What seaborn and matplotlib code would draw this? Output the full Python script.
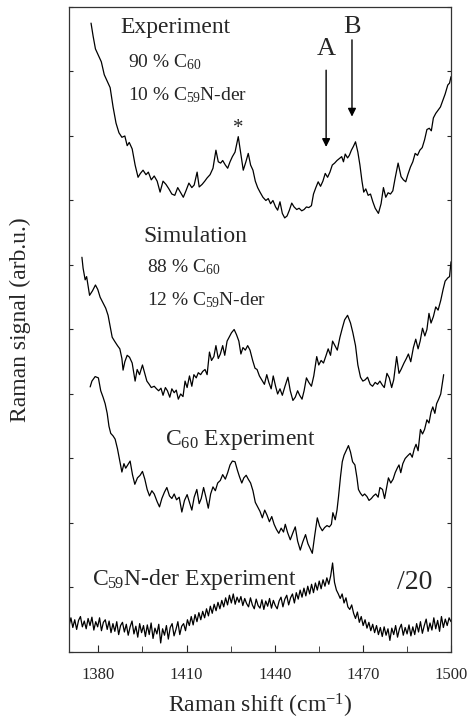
import numpy as np
import pandas as pd
import matplotlib
matplotlib.use("Agg")
import matplotlib.pyplot as plt
import seaborn as sns

# -----------------------------
# Spectra (y in arb. units, stacked)
# -----------------------------

# Experiment: 90 % C60 / 10 % C59N-der
exp_x = [1377.5, 1378.2, 1379.0, 1380.0, 1381.0, 1382.0, 1383.0, 1384.0, 1385.0, 1386.0,
         1387.0, 1388.0, 1389.0, 1389.8, 1390.5, 1391.5, 1392.5, 1393.5, 1394.3, 1395.2,
         1396.2, 1397.0, 1398.0, 1399.0, 1400.0, 1401.0, 1402.0, 1403.0, 1404.0, 1405.0,
         1406.0, 1407.0, 1408.0, 1408.9, 1409.8, 1410.8, 1411.8, 1412.6, 1413.6, 1414.3,
         1415.3, 1416.2, 1417.0, 1418.0, 1419.0, 1420.0, 1420.8, 1421.6, 1422.3, 1423.2,
         1424.0, 1424.8, 1425.6, 1426.5, 1427.6, 1428.5, 1429.3, 1430.2, 1431.0, 1431.8,
         1432.6, 1433.4, 1434.2, 1435.0, 1436.0, 1437.0, 1437.8, 1438.6, 1439.4, 1440.3,
         1441.0, 1441.8, 1442.6, 1443.4, 1444.2, 1445.0, 1445.8, 1446.6, 1447.5, 1448.3,
         1449.2, 1450.0, 1450.8, 1451.6, 1452.5, 1453.2, 1454.0, 1454.8, 1455.6, 1456.4,
         1457.2, 1458.0, 1458.8, 1459.6, 1460.4, 1461.2, 1462.0, 1462.8, 1463.4, 1464.0,
         1464.8, 1465.4, 1466.1, 1466.8, 1467.5, 1468.3, 1469.0, 1469.7, 1470.3, 1471.0,
         1471.8, 1472.6, 1473.4, 1474.2, 1475.3, 1476.2, 1477.0, 1477.8, 1478.6, 1479.4,
         1480.2, 1481.0, 1482.0, 1483.0, 1483.8, 1484.6, 1485.3, 1486.2, 1487.0, 1487.8,
         1488.6, 1489.4, 1490.2, 1491.0, 1491.8, 1492.6, 1493.3, 1494.0, 1494.8, 1495.6,
         1496.4, 1497.2, 1498.0, 1498.9, 1499.5, 1500.0]
exp_y = [9.75, 9.55, 9.35, 9.25, 9.15, 8.95, 8.85, 8.75, 8.45, 8.20,
         8.05, 7.98, 8.00, 7.85, 7.90, 7.80, 7.55, 7.36, 7.42, 7.47,
         7.40, 7.44, 7.32, 7.38, 7.30, 7.13, 7.30, 7.25, 7.18, 7.10,
         7.08, 7.20, 7.12, 7.05, 7.15, 7.27, 7.20, 7.24, 7.44, 7.21,
         7.25, 7.30, 7.35, 7.40, 7.50, 7.78, 7.60, 7.58, 7.62, 7.55,
         7.50, 7.60, 7.68, 7.75, 7.99, 7.72, 7.47, 7.60, 7.73, 7.55,
         7.47, 7.30, 7.20, 7.13, 7.05, 7.00, 7.03, 6.95, 7.00, 6.90,
         6.85, 6.98, 6.80, 6.73, 6.76, 6.85, 6.96, 6.90, 6.86, 6.88,
         6.84, 6.86, 6.90, 6.89, 6.92, 7.10, 7.20, 7.29, 7.22, 7.30,
         7.42, 7.36, 7.44, 7.55, 7.58, 7.62, 7.65, 7.68, 7.60, 7.72,
         7.66, 7.70, 7.78, 7.84, 7.91, 7.75, 7.55, 7.30, 7.13, 7.18,
         7.08, 7.10, 6.98, 6.88, 6.80, 6.95, 7.20, 7.05, 7.12, 7.10,
         7.15, 7.35, 7.58, 7.37, 7.32, 7.29, 7.40, 7.52, 7.60, 7.73,
         7.70, 7.78, 7.82, 7.94, 8.10, 8.12, 8.08, 8.28, 8.35, 8.40,
         8.45, 8.55, 8.65, 8.79, 8.82, 8.92]

# Simulation: 88 % C60 / 12 % C59N-der
sim_x = [1374.4, 1374.8, 1375.5, 1376.0, 1377.0, 1378.0, 1379.0, 1379.8, 1380.6, 1381.5,
         1382.5, 1383.3, 1384.0, 1384.7, 1385.5, 1386.5, 1387.3, 1388.0, 1388.4, 1389.0,
         1389.8, 1390.6, 1391.5, 1392.5, 1393.2, 1394.0, 1395.0, 1395.8, 1396.5, 1397.3,
         1398.0, 1399.0, 1399.8, 1400.5, 1401.3, 1402.0, 1402.8, 1403.5, 1404.3, 1405.0,
         1405.8, 1406.5, 1407.2, 1408.0, 1408.8, 1409.5, 1410.2, 1411.0, 1411.8, 1412.5,
         1413.3, 1414.0, 1414.8, 1415.5, 1416.3, 1417.0, 1417.8, 1418.5, 1419.3, 1420.0,
         1420.8, 1421.5, 1422.3, 1423.0, 1423.8, 1424.5, 1425.3, 1426.2, 1427.0, 1427.8,
         1428.5, 1429.2, 1430.0, 1430.8, 1431.6, 1432.5, 1433.3, 1434.0, 1434.8, 1435.6,
         1436.5, 1437.3, 1438.0, 1438.8, 1439.5, 1440.3, 1441.0, 1441.8, 1442.6, 1443.5,
         1444.5, 1445.3, 1446.2, 1447.0, 1447.8, 1448.5, 1449.3, 1450.0, 1450.8, 1451.6,
         1452.5, 1453.3, 1454.3, 1455.0, 1455.8, 1456.6, 1457.5, 1458.2, 1459.0, 1459.7,
         1460.5, 1461.3, 1462.2, 1463.0, 1463.8, 1464.8, 1465.8, 1466.6, 1467.5, 1468.3,
         1469.2, 1470.0, 1470.8, 1471.6, 1472.5, 1473.3, 1474.2, 1475.0, 1475.8, 1476.6,
         1477.3, 1478.2, 1479.0, 1479.8, 1480.5, 1481.5, 1482.3, 1483.0, 1484.0, 1484.8,
         1485.5, 1486.3, 1487.2, 1488.0, 1488.8, 1489.5, 1490.3, 1491.1, 1491.8, 1492.5,
         1493.2, 1494.0, 1494.8, 1495.6, 1496.5, 1497.3, 1498.0, 1498.9, 1499.5, 1500.0]
sim_y = [6.12, 5.95, 5.77, 5.82, 5.53, 5.60, 5.69, 5.62, 5.50, 5.42,
         5.33, 5.22, 5.05, 4.88, 4.82, 4.75, 4.70, 4.55, 4.37, 4.50,
         4.60, 4.57, 4.48, 4.20, 4.38, 4.30, 4.45, 4.32, 4.20, 4.15,
         4.10, 4.12, 4.08, 4.05, 4.09, 3.98, 4.10, 4.05, 3.95, 4.08,
         4.02, 4.06, 3.92, 4.00, 3.96, 4.20, 4.10, 4.28, 4.12, 4.30,
         4.25, 4.33, 4.30, 4.35, 4.38, 4.30, 4.65, 4.52, 4.58, 4.75,
         4.55, 4.62, 4.75, 4.60, 4.82, 4.88, 4.95, 5.00, 4.92, 4.82,
         4.62, 4.72, 4.68, 4.75, 4.68, 4.52, 4.40, 4.38, 4.28, 4.22,
         4.15, 4.30, 4.18, 4.08, 4.28, 4.12, 4.00, 4.08, 3.98, 4.12,
         4.26, 4.05, 3.90, 3.95, 4.05, 3.98, 3.92, 4.05, 4.25, 4.18,
         4.12, 4.28, 4.58, 4.45, 4.52, 4.48, 4.60, 4.70, 4.60, 4.82,
         4.75, 4.68, 4.88, 5.02, 5.15, 5.22, 5.10, 4.95, 4.75, 4.45,
         4.26, 4.20, 4.22, 4.26, 4.15, 4.12, 4.18, 4.15, 4.20, 4.14,
         4.10, 4.32, 4.25, 4.10, 4.22, 4.58, 4.32, 4.38, 4.48, 4.55,
         4.62, 4.50, 4.72, 4.85, 4.70, 4.82, 5.02, 4.90, 5.00, 5.25,
         5.10, 5.20, 5.35, 5.30, 5.45, 5.62, 5.75, 5.80, 5.82, 6.05]

# Pure C60 experiment
c60_x = [1377.2, 1377.8, 1378.9, 1380.0, 1380.8, 1381.6, 1382.3, 1383.0, 1383.6, 1384.2,
         1385.0, 1385.7, 1386.5, 1387.2, 1388.0, 1388.7, 1389.3, 1390.0, 1390.8, 1391.6,
         1392.4, 1393.3, 1394.2, 1395.0, 1395.8, 1396.6, 1397.4, 1398.2, 1399.0, 1400.0,
         1400.8, 1401.6, 1402.5, 1403.3, 1404.2, 1405.0, 1405.8, 1406.6, 1407.5, 1408.4,
         1409.3, 1410.2, 1411.0, 1411.8, 1412.6, 1413.5, 1414.3, 1415.0, 1415.8, 1416.6,
         1417.4, 1418.2, 1419.0, 1419.8, 1420.6, 1421.5, 1422.3, 1423.2, 1424.0, 1424.8,
         1425.6, 1426.5, 1427.3, 1428.0, 1428.8, 1429.5, 1430.3, 1431.0, 1431.8, 1432.6,
         1433.4, 1434.2, 1435.0, 1435.8, 1436.6, 1437.4, 1438.2, 1439.0, 1439.8, 1440.6,
         1441.4, 1442.2, 1443.0, 1443.6, 1444.4, 1445.3, 1446.2, 1447.0, 1447.8, 1448.7,
         1449.5, 1450.5, 1451.3, 1452.1, 1452.8, 1453.6, 1454.5, 1455.3, 1456.2, 1457.0,
         1457.8, 1458.6, 1459.3, 1459.8, 1460.6, 1461.2, 1461.7, 1462.4, 1463.0, 1463.6,
         1464.3, 1465.1, 1465.8, 1466.5, 1467.3, 1468.0, 1468.5, 1469.2, 1469.9, 1470.6,
         1471.4, 1472.1, 1472.9, 1473.6, 1474.4, 1475.2, 1475.8, 1476.7, 1477.4, 1478.1,
         1478.7, 1479.5, 1480.3, 1481.0, 1481.7, 1482.3, 1482.9, 1483.6, 1484.4, 1485.2,
         1486.1, 1486.8, 1487.5, 1488.1, 1488.8, 1489.6, 1490.3, 1491.0, 1491.8, 1492.5,
         1493.2, 1493.8, 1494.5, 1495.1, 1495.8, 1496.5, 1497.0, 1497.5]
c60_y = [4.11, 4.20, 4.27, 4.25, 4.05, 3.95, 3.85, 3.70, 3.50, 3.39,
         3.35, 3.30, 3.15, 2.98, 2.79, 2.92, 2.85, 2.90, 2.96, 2.75,
         2.60, 2.70, 2.74, 2.80, 2.68, 2.52, 2.42, 2.50, 2.45, 2.33,
         2.25, 2.38, 2.48, 2.55, 2.42, 2.38, 2.45, 2.36, 2.40, 2.17,
         2.35, 2.44, 2.32, 2.20, 2.40, 2.52, 2.30, 2.38, 2.55, 2.40,
         2.23, 2.45, 2.56, 2.50, 2.62, 2.66, 2.75, 2.68, 2.78, 2.90,
         2.96, 2.95, 2.82, 2.72, 2.62, 2.70, 2.74, 2.68, 2.62, 2.50,
         2.32, 2.25, 2.18, 2.08, 2.20, 2.12, 2.02, 2.10, 1.98, 1.90,
         1.84, 1.92, 1.86, 1.98, 1.85, 1.74, 1.85, 1.94, 1.72, 1.58,
         1.70, 1.82, 1.68, 1.60, 1.53, 1.80, 2.08, 1.95, 1.88, 1.93,
         1.96, 1.94, 1.98, 2.16, 2.05, 2.20, 2.40, 2.72, 2.95, 3.05,
         3.12, 3.20, 3.10, 2.95, 2.90, 2.70, 2.52, 2.46, 2.42, 2.45,
         2.41, 2.35, 2.38, 2.42, 2.45, 2.40, 2.55, 2.52, 2.38, 2.55,
         2.70, 2.62, 2.68, 2.78, 2.85, 2.90, 2.78, 2.92, 3.00, 3.04,
         3.08, 3.02, 3.15, 3.22, 3.12, 3.45, 3.38, 3.45, 3.60, 3.55,
         3.72, 3.80, 3.70, 3.85, 3.92, 4.00, 4.15, 4.30]

# C59N-der experiment (divided by 20), evenly sampled 1370..1500
c59n_y = [0.40, 0.53, 0.38, 0.50, 0.35, 0.49, 0.55, 0.39, 0.48, 0.36,
          0.52, 0.41, 0.54, 0.34, 0.47, 0.39, 0.53, 0.33, 0.46, 0.50,
          0.35, 0.48, 0.30, 0.44, 0.32, 0.47, 0.27, 0.41, 0.46, 0.31,
          0.43, 0.26, 0.39, 0.48, 0.28, 0.40, 0.23, 0.44, 0.30, 0.41,
          0.24, 0.42, 0.27, 0.45, 0.21, 0.37, 0.28, 0.43, 0.14, 0.36,
          0.26, 0.41, 0.20, 0.38, 0.44, 0.25, 0.35, 0.47, 0.27, 0.40,
          0.44, 0.33, 0.50, 0.41, 0.55, 0.42, 0.58, 0.47, 0.61, 0.50,
          0.63, 0.53, 0.67, 0.56, 0.71, 0.60, 0.74, 0.64, 0.77, 0.67,
          0.80, 0.70, 0.84, 0.73, 0.88, 0.76, 0.90, 0.74, 0.85, 0.77,
          0.86, 0.72, 0.83, 0.75, 0.70, 0.84, 0.73, 0.67, 0.82, 0.72,
          0.68, 0.81, 0.66, 0.79, 0.71, 0.83, 0.68, 0.80, 0.72, 0.67,
          0.79, 0.85, 0.70, 0.82, 0.88, 0.73, 0.84, 0.90, 0.76, 0.92,
          0.82, 0.96, 0.85, 0.99, 0.87, 1.02, 0.90, 1.05, 0.92, 1.07,
          0.96, 1.10, 0.98, 1.12, 1.02, 1.15, 1.05, 1.18, 1.38, 1.08,
          0.96, 0.90, 0.83, 0.90, 0.76, 0.84, 0.70, 0.66, 0.73, 0.60,
          0.52, 0.62, 0.46, 0.55, 0.41, 0.50, 0.37, 0.46, 0.33, 0.43,
          0.30, 0.41, 0.27, 0.38, 0.24, 0.39, 0.26, 0.36, 0.18, 0.37,
          0.27, 0.41, 0.23, 0.36, 0.43, 0.26, 0.38, 0.28, 0.42, 0.25,
          0.39, 0.27, 0.44, 0.31, 0.47, 0.29, 0.41, 0.51, 0.32, 0.45,
          0.34, 0.53, 0.36, 0.49, 0.32, 0.55, 0.38, 0.51, 0.41, 0.53, 0.47]
c59n_x = np.linspace(1370, 1500, len(c59n_y))

x_ticks = [1380, 1410, 1440, 1470, 1500]
x_minor = [1395, 1425, 1455, 1485]


# -----------------------------
# Plot
# -----------------------------

sns.set_style("ticks")
plt.rcParams["font.family"] = ["Liberation Serif", "DejaVu Serif"]
plt.rcParams["mathtext.fontset"] = "custom"
plt.rcParams["mathtext.rm"] = "Liberation Serif"
plt.rcParams["mathtext.it"] = "Liberation Serif:italic"
plt.rcParams["mathtext.default"] = "rm"

fig = plt.figure(figsize=(4.70, 7.21), dpi=100)
ax = fig.add_axes([0.1468, 0.0957, 0.8128, 0.8946])

curves = [(exp_x, exp_y), (sim_x, sim_y), (c60_x, c60_y), (c59n_x, c59n_y)]
for xs, ys in curves:
    df = pd.DataFrame({"shift": xs, "signal": ys})
    sns.lineplot(data=df, x="shift", y="signal", ax=ax, color="black",
                 lw=0.9, sort=False, estimator=None)

ax.set_xlim(1370, 1500)
ax.set_ylim(0, 10)
ax.set_xticks(x_ticks)
ax.set_xticks(x_minor, minor=True)
ax.set_yticks(range(0, 11))
ax.set_yticklabels([])
ax.tick_params(axis="x", which="major", direction="in", length=5, labelsize=12, pad=11)
ax.tick_params(axis="x", which="minor", direction="in", length=4)
ax.tick_params(axis="y", which="both", direction="in", length=3, left=True, right=True)
for sp in ax.spines.values():
    sp.set_visible(True)
    sp.set_linewidth(0.9)
    sp.set_color("#333333")

ax.set_xlabel(r"Raman shift (cm$^{-1}$)", fontsize=17)
ax.set_ylabel("Raman signal (arb.u.)", fontsize=17)
ax.xaxis.set_label_coords(0.5, -0.062)
ax.yaxis.set_label_coords(-0.100, 0.515)

# Labels
ax.text(1387.5, 9.6, "Experiment", fontsize=17, ha="left", va="baseline")
ax.text(1390.2, 9.07, r"90 % C$_{60}$", fontsize=14, ha="left", va="baseline")
ax.text(1390.2, 8.56, r"10 % C$_{59}$N-der", fontsize=14, ha="left", va="baseline")
ax.text(1427.7, 8.05, "*", fontsize=15, ha="center", va="baseline")

ax.text(1395.3, 6.36, "Simulation", fontsize=17, ha="left", va="baseline")
ax.text(1396.6, 5.89, r"88 % C$_{60}$", fontsize=14, ha="left", va="baseline")
ax.text(1396.6, 5.38, r"12 % C$_{59}$N-der", fontsize=14, ha="left", va="baseline")

ax.text(1402.8, 3.21, r"C$_{60}$ Experiment", fontsize=17, ha="left", va="baseline")
ax.text(1377.7, 1.04, r"C$_{59}$N-der Experiment", fontsize=17, ha="left", va="baseline")
ax.text(1481.5, 0.98, "/20", fontsize=20, ha="left", va="baseline")

# Arrows A and B
ax.text(1457.5, 9.26, "A", fontsize=19, ha="center", va="baseline")
ax.text(1466.3, 9.6, "B", fontsize=19, ha="center", va="baseline")
ax.annotate("", xy=(1457.5, 7.83), xytext=(1457.5, 9.02),
            arrowprops=dict(arrowstyle="-|>", color="black", lw=1.0,
                            mutation_scale=12, shrinkA=0, shrinkB=0))
ax.annotate("", xy=(1466.3, 8.3), xytext=(1466.3, 9.49),
            arrowprops=dict(arrowstyle="-|>", color="black", lw=1.0,
                            mutation_scale=12, shrinkA=0, shrinkB=0))

fig.savefig("out.png", dpi=100)
